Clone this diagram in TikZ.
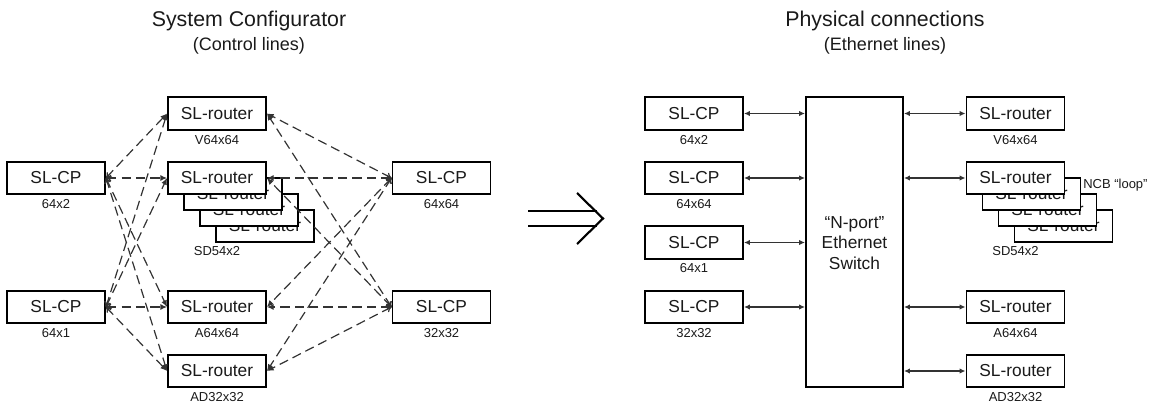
\documentclass[tikz,border=0pt]{standalone}
\usepackage{fontspec}
\setmainfont{Liberation Sans}
\usetikzlibrary{arrows.meta}
\definecolor{ink}{HTML}{1A1A1A}
\definecolor{dline}{HTML}{333333}
\begin{document}
\begin{tikzpicture}[x=0.75pt,y=-0.75pt,
  box/.style={draw=black, line width=1.4pt, fill=white, minimum width=73.5pt, minimum height=24.5pt, inner sep=0pt, font=\fontsize{13}{15}\selectfont, text=ink},
  lab/.style={font=\fontsize{9.75}{11}\selectfont, text=ink, inner sep=0pt},
  ttl/.style={font=\fontsize{16}{18}\selectfont, text=ink, inner sep=0pt},
  sub/.style={font=\fontsize{13.5}{15}\selectfont, text=ink, inner sep=0pt},
  ctl/.style={draw=dline, line width=0.9pt, dash pattern=on 7pt off 3.8pt, {To[length=4pt,width=5pt]}-{Latex[length=5pt,width=4.5pt]}},
  eth/.style={draw=dline, line width=1.1pt, {Latex[length=4.5pt,width=4pt]}-{Latex[length=4.5pt,width=4pt]}},
  bigarrow/.style={draw=black, line width=1.8pt},
]
\useasboundingbox (0,0) rectangle (1160,403);

% titles
\node[ttl] (t1) at (249,20.5) {System Configurator};
\node[sub] (t1s) at (249,46) {(Control lines)};
\node[ttl] (t2) at (885,20.5) {Physical connections};
\node[sub] (t2s) at (885,46) {(Ethernet lines)};

% ---------- left diagram ----------
\node[box] (cpA) at (56,178) {SL-CP};
\node[lab] (lcpA) at (56,204) {64x2};
\node[box] (cpB) at (56,307) {SL-CP};
\node[lab] (lcpB) at (56,333) {64x1};
\node[box] (cpC) at (441.5,178) {SL-CP};
\node[lab] (lcpC) at (441.5,204) {64x64};
\node[box] (cpD) at (441.5,307) {SL-CP};
\node[lab] (lcpD) at (441.5,333) {32x32};

\node[box] (rV) at (217,113.5) {SL-router};
\node[lab] (lrV) at (217,140) {V64x64};
\foreach \k in {3,2,1} {\node[box] (rs\k) at ({217+16*\k},{178+16*\k}) {SL-router};}
\node[box] (rSD) at (217,178) {SL-router};
\node[lab] (lrSD) at (217,251) {SD54x2};
\node[box] (rA) at (217,307) {SL-router};
\node[lab] (lrA) at (217,333) {A64x64};
\node[box] (rAD) at (217,371) {SL-router};
\node[lab] (lrAD) at (217,397) {AD32x32};

\foreach \s in {cpA,cpB} {\foreach \t in {rV,rSD,rA,rAD} {\draw[ctl] (\s.east) -- (\t.west);}}
\foreach \s in {cpC,cpD} {\foreach \t in {rV,rSD,rA,rAD} {\draw[ctl] (\s.west) -- (\t.east);}}

% implies arrow
\draw[bigarrow] (528,211) -- (597,211);
\draw[bigarrow] (528,226) -- (597,226);
\draw[draw=black, line width=1.6pt] (577,193) -- (603,218.5) -- (577,244);

% ---------- right diagram ----------
\node[box] (pA) at (694,113.5) {SL-CP};
\node[lab] (lpA) at (694,140) {64x2};
\node[box] (pB) at (694,178) {SL-CP};
\node[lab] (lpB) at (694,204) {64x64};
\node[box] (pC) at (694,242.5) {SL-CP};
\node[lab] (lpC) at (694,268.5) {64x1};
\node[box] (pD) at (694,307) {SL-CP};
\node[lab] (lpD) at (694,333) {32x32};

\node[box, minimum width=72.75pt, minimum height=217.5pt] (sw) at (854.5,242) {};
\node[align=center, font=\fontsize{13}{15.4}\selectfont, text=ink, inner sep=0pt] (swt) at (854.5,243) {“N-port”\\Ethernet\\Switch};

\node[box] (qV) at (1015.5,113.5) {SL-router};
\node[lab] (lqV) at (1015.5,140) {V64x64};
\foreach \k in {3,2,1} {\node[box] (qs\k) at ({1015.5+16*\k},{178+16*\k}) {SL-router};}
\node[box] (qSD) at (1015.5,178) {SL-router};
\node[lab] (lqSD) at (1015.5,251) {SD54x2};
\node[lab, anchor=west] (ncb) at (1083,185) {NCB “loop”};
\node[box] (qA) at (1015.5,307) {SL-router};
\node[lab] (lqA) at (1015.5,333) {A64x64};
\node[box] (qAD) at (1015.5,371) {SL-router};
\node[lab] (lqAD) at (1015.5,397) {AD32x32};

\foreach \s in {pA,pB,pC,pD} {\draw[eth] (\s.east) -- (\s.east -| sw.west);}
\foreach \t in {qV,qSD,qA,qAD} {\draw[eth] (sw.east |- \t.west) -- (\t.west);}
\end{tikzpicture}
\end{document}
